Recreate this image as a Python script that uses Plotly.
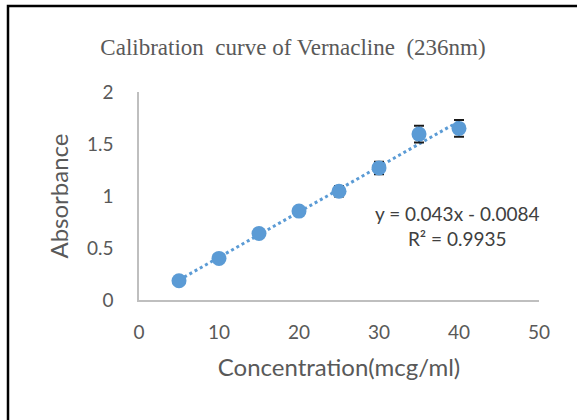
import numpy as np
import plotly.graph_objects as go

concentration = [5, 10, 15, 20, 25, 30, 35, 40]
absorbance = [0.185, 0.40, 0.64, 0.855, 1.045, 1.27, 1.595, 1.65]
error = [0.02, 0.03, 0.03, 0.04, 0.05, 0.06, 0.08, 0.08]
x_ticks = [0, 10, 20, 30, 40, 50]
y_ticks = [0, 0.5, 1, 1.5, 2]
y_tick_text = ["0", "0.5", "1", "1.5", "2"]
title_text = "Calibration  curve of Vernacline  (236nm)"
equation_text = "y = 0.043x - 0.0084<br>R² = 0.9935"

W, H = 577, 420
L, R, T, B = 139, 38, 92, 120

slope, intercept = np.polyfit(concentration, absorbance, 1)
fit_x = [concentration[0], concentration[-1]]
fit_y = [slope * v + intercept for v in fit_x]

blue = "#5b9bd5"
grey = "#595959"
sans = "Lato, Open Sans, sans-serif"

fig = go.Figure()
fig.add_trace(go.Scatter(
    x=fit_x, y=fit_y, mode="lines",
    line=dict(color=blue, width=3, dash="dot"),
    hoverinfo="skip", showlegend=False))
fig.add_trace(go.Scatter(
    x=concentration, y=absorbance, mode="markers",
    marker=dict(color=blue, size=15),
    error_y=dict(type="data", array=error, color="#1a1a1a", thickness=2, width=5),
    showlegend=False))

pw = W - L - R
ph = H - T - B
def px2x(px):
    return (px - L) / pw
def py2y(py):
    return (H - B - py) / ph

fig.add_shape(type="rect", xref="paper", yref="paper",
              x0=px2x(8), x1=px2x(700), y0=py2y(6), y1=py2y(600),
              line=dict(color="black", width=2.5), fillcolor="rgba(0,0,0,0)")

fig.add_annotation(text=equation_text, xref="x", yref="y",
                   x=39.7, y=0.715, showarrow=False, align="center",
                   font=dict(family=sans, size=19, color="#404040"))

fig.update_layout(
    width=W, height=H,
    margin=dict(l=L, r=R, t=T, b=B),
    paper_bgcolor="white", plot_bgcolor="white",
    title=dict(text=title_text, x=293 / W, xanchor="center", y=1 - 47 / H, yanchor="middle",
               font=dict(family="Liberation Serif, Times New Roman, serif", size=23, color=grey)),
    xaxis=dict(range=[0, 50], tickvals=x_ticks, showgrid=False, zeroline=False,
               showline=True, linecolor="#bfbfbf", linewidth=1.5, ticks="",
               ticklabelstandoff=14,
               tickfont=dict(family=sans, size=19, color=grey),
               title=dict(text="Concentration(mcg/ml)", standoff=18,
                          font=dict(family=sans, size=24, color=grey))),
    yaxis=dict(range=[0, 2], tickvals=y_ticks, ticktext=y_tick_text, showgrid=False, zeroline=False,
               showline=True, linecolor="#bfbfbf", linewidth=1.5, ticks="",
               ticklabelstandoff=20,
               tickfont=dict(family=sans, size=19, color=grey),
               title=dict(text="Absorbance", standoff=12,
                          font=dict(family=sans, size=24, color=grey))),
)

fig.write_html("out.html")
